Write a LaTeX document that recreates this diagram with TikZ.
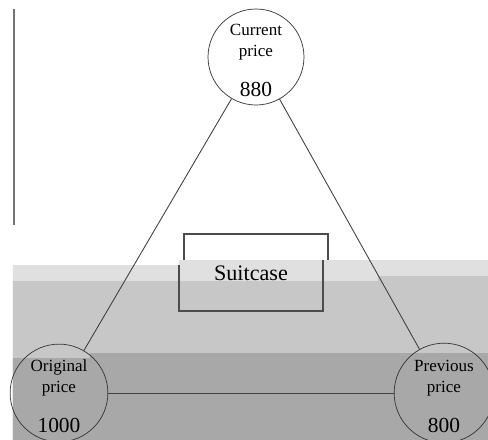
\documentclass[tikz,border=0pt]{standalone}
\usepackage{fontspec}
\setmainfont{Liberation Serif}
\usetikzlibrary{positioning}

\begin{document}
\begin{tikzpicture}[x=0.02cm,y=-0.02cm,font=\rmfamily,
	pricenode/.style={draw=black!80,circle,minimum size=1.92cm,inner sep=0pt,align=center,
		font=\fontsize{9.7}{11.9}\selectfont},
	link/.style={draw=black!75,line width=0.5pt},
	edge/.style={draw=black!70,line width=0.6pt}]
	\useasboundingbox (0,0) rectangle (488,440);
	\clip (0,0) rectangle (488,440);

	% left rule
	\draw[black!55,line width=1.1pt] (14,9) -- (14,225);

	% suitcase, back part
	\draw[edge] (184,265) -- (184,234) -- (328,234) -- (328,260);

	% grey bands
	\fill[black!12] (13,265) -- (179,265) -- (179,260) -- (488,260) -- (488,440) -- (13,440) -- cycle;
	\fill[black!22] (13,281) -- (378,281) -- (378,276) -- (488,276) -- (488,440) -- (13,440) -- cycle;
	\fill[black!34] (13,358) -- (90,358) -- (90,353) -- (488,353) -- (488,440) -- (13,440) -- cycle;

	% suitcase, front part
	\draw[edge] (179,265) -- (179,311) -- (323,311) -- (323,260);
	\node[font=\fontsize{12.6}{14}\selectfont] (case) at (251,273) {Suitcase};

	\node[pricenode] (cur) at (256,57) {\rule{0pt}{10.5pt}Current\\price\\[11pt]{\fontsize{12.2}{14}\selectfont 880}};
	\node[pricenode] (orig) at (59,393) {\rule{0pt}{10.5pt}Original\\price\\[11pt]{\fontsize{12.2}{14}\selectfont 1000}};
	\node[pricenode] (prev) at (444,393) {\rule{0pt}{10.5pt}Previous\\price\\[11pt]{\fontsize{12.2}{14}\selectfont 800}};

	\draw[link] (cur) -- (orig);
	\draw[link] (cur) -- (prev);
	\draw[link] (orig) -- (prev);
\end{tikzpicture}
\end{document}
